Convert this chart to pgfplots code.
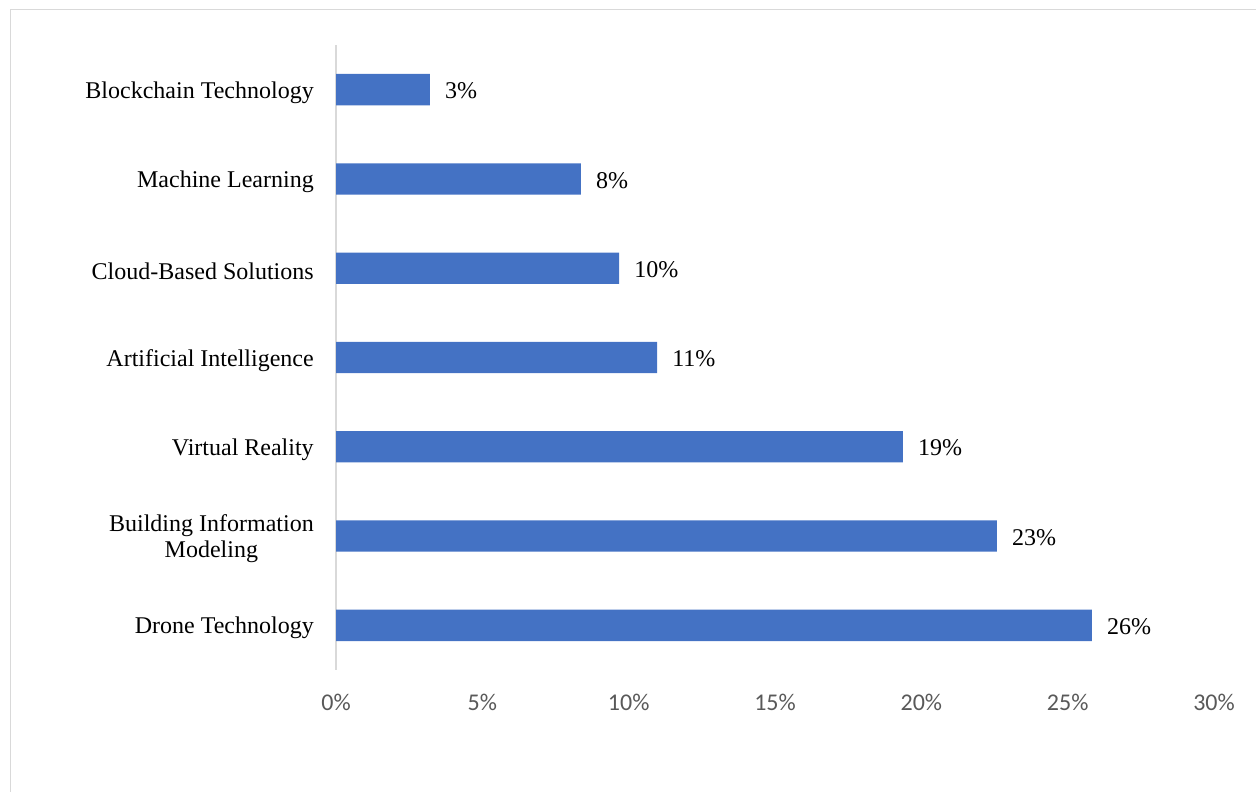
\documentclass[border=0pt]{standalone}
\usepackage{pgfplots}
\pgfplotsset{compat=1.18}
\usepackage{fontspec}
\setmainfont{Liberation Serif}
\newfontfamily\calibri{Carlito}
\definecolor{barblue}{RGB}{68,114,196}
\definecolor{framegray}{RGB}{217,217,217}
\definecolor{ticktext}{RGB}{89,89,89}
\begin{document}
\begin{tikzpicture}
% page = 1256 x 792 px at 0.75pt per px
\path[use as bounding box] (0,0) rectangle (942pt,594pt);
% outer frame (only top and left edges visible)
\draw[framegray, line width=1pt] (8pt,0) -- (8pt,587pt) -- (942pt,587pt);
\begin{axis}[
  at={(252pt,91.5pt)}, anchor=south west,
  scale only axis,
  width=658.5pt, height=468.75pt,
  xbar, bar width=23.5pt,
  xmin=0, xmax=30,
  ymin=-0.5, ymax=6.5,
  axis lines=left,
  axis line style={-},
  x axis line style={draw=none},
  y axis line style={draw=framegray, line width=1pt},
  major tick length=0pt,
  xtick={0,5,10,15,20,25,30},
  xticklabels={0\%,5\%,10\%,15\%,20\%,25\%,30\%},
  xticklabel style={font=\calibri\fontsize{18}{20}\selectfont, text=ticktext, anchor=center, yshift=-24pt},
  ytick={0,1,2,3,4,5,6},
  yticklabels={Drone Technology,{Building Information\\Modeling},Virtual Reality,Artificial Intelligence,Cloud-Based Solutions,Machine Learning,Blockchain Technology},
  yticklabel style={font=\fontsize{18}{20}\selectfont, align=center, anchor=east, inner sep=0pt, xshift=-16.5pt, yshift=-2pt},
  /pgf/number format/assume math mode=true,
  nodes near coords={\pgfmathprintnumber[fixed,precision=0,assume math mode=true]{\pgfplotspointmeta}\%},
  nodes near coords style={font=\fontsize{18}{20}\selectfont, anchor=west, inner sep=0pt, xshift=11.25pt, yshift=-1pt, text=black},
  clip=false,
]
\addplot[fill=barblue, draw=none] coordinates {
  (25.83,0)
  (22.58,1)
  (19.37,2)
  (10.97,3)
  (9.67,4)
  (8.37,5)
  (3.21,6)
};
\end{axis}
\end{tikzpicture}
\end{document}
